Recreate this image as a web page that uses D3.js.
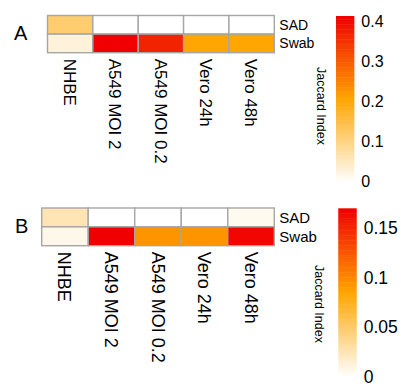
<!DOCTYPE html>
<html>
<head>
<meta charset="utf-8">
<script src="https://cdn.jsdelivr.net/npm/d3@7"></script>
<style>
html,body{margin:0;padding:0;background:#fff;}
svg{display:block;font-family:"Liberation Sans",Arial,sans-serif;}
</style>
</head>
<body>
<svg id="chart" width="401" height="386"></svg>
<script>
const columns = ["NHBE", "A549 MOI 2", "A549 MOI 0.2", "Vero 24h", "Vero 48h"];
const rows = ["SAD", "Swab"];

const panelA_SAD  = [0.116, 0, 0, 0, 0];
const panelA_Swab = [0.029, 0.414, 0.37, 0.205, 0.205];
const panelA_max = 0.414;
const panelA_ticks = [0, 0.1, 0.2, 0.3, 0.4];

const panelB_SAD  = [0.025, 0, 0, 0, 0.005];
const panelB_Swab = [0.007, 0.17, 0.094, 0.094, 0.167];
const panelB_max = 0.17;
const panelB_ticks = [0, 0.05, 0.1, 0.15];

const legendTitle = "Jaccard Index";

const svg = d3.select("#chart");

function drawPanel(cfg) {
  const g = svg.append("g");
  const color = d3.scaleLinear()
    .domain([0, cfg.max / 2, cfg.max])
    .range(["#ffffff", "#ffa500", "#f00000"])
    .interpolate(d3.interpolateRgb)
    .clamp(true);

  const x = d3.scaleBand().domain(columns).range([cfg.x0, cfg.x1]);
  const y = d3.scaleBand().domain(rows).range([cfg.y0, cfg.y1]);

  const cells = [];
  rows.forEach((r, i) => {
    const vals = i === 0 ? cfg.sad : cfg.swab;
    columns.forEach((c, j) => cells.push({ r, c, v: vals[j] }));
  });

  g.selectAll("rect.cell").data(cells).enter().append("rect")
    .attr("class", "cell")
    .attr("x", d => x(d.c))
    .attr("y", d => y(d.r))
    .attr("width", x.bandwidth())
    .attr("height", y.bandwidth())
    .attr("fill", d => color(d.v))
    .attr("stroke", "#a6a6a6")
    .attr("stroke-width", 1.4);

  g.selectAll("text.row").data(rows).enter().append("text")
    .attr("x", cfg.x1 + 5)
    .attr("y", d => y(d) + y.bandwidth() / 2)
    .attr("dy", "0.36em")
    .attr("font-size", cfg.rowFont)
    .attr("fill", "#000")
    .text(d => d);

  g.selectAll("text.col").data(columns).enter().append("text")
    .attr("transform", d => `translate(${x(d) + x.bandwidth() / 2},${cfg.y1 + 6}) rotate(90)`)
    .attr("dy", "0.36em")
    .attr("font-size", cfg.colFont)
    .attr("fill", "#000")
    .text(d => d);

  g.append("text")
    .attr("x", cfg.letterX)
    .attr("y", cfg.letterY)
    .attr("font-size", 20)
    .attr("fill", "#000")
    .text(cfg.letter);

  const ly = d3.scaleLinear().domain([0, cfg.max]).range([cfg.lb0, cfg.lbTop]);
  const steps = d3.range(0, 100);
  const stepV = cfg.max / 100;
  g.selectAll("rect.leg").data(steps).enter().append("rect")
    .attr("x", cfg.lx)
    .attr("width", cfg.lw)
    .attr("y", d => ly((d + 1) * stepV))
    .attr("height", d => ly(d * stepV) - ly((d + 1) * stepV) + 0.5)
    .attr("fill", d => color((d + 0.5) * stepV));

  g.selectAll("text.tick").data(cfg.ticks).enter().append("text")
    .attr("x", cfg.lx + cfg.lw + 7)
    .attr("y", d => ly(d))
    .attr("dy", "0.36em")
    .attr("font-size", cfg.tickFont)
    .attr("fill", "#000")
    .text(d => d3.format("")(d));

  g.append("text")
    .attr("transform", `translate(${cfg.titleX},${cfg.titleY}) rotate(90)`)
    .attr("text-anchor", "middle")
    .attr("dy", "0.36em")
    .attr("font-size", 12.5)
    .attr("fill", "#000")
    .text(legendTitle);
}

drawPanel({
  letter: "A", letterX: 14, letterY: 40,
  sad: panelA_SAD, swab: panelA_Swab, max: panelA_max, ticks: panelA_ticks,
  x0: 47.5, x1: 274.3, y0: 15.5, y1: 52.7,
  rowFont: 14, colFont: 17, tickFont: 16,
  lx: 336, lw: 18.3, lb0: 181.7, lbTop: 16,
  titleX: 321.5, titleY: 106
});

drawPanel({
  letter: "B", letterX: 15, letterY: 232.5,
  sad: panelB_SAD, swab: panelB_Swab, max: panelB_max, ticks: panelB_ticks,
  x0: 41.7, x1: 274.3, y0: 208, y1: 245.7,
  rowFont: 15, colFont: 18, tickFont: 17.5,
  lx: 338.3, lw: 18.4, lb0: 376.5, lbTop: 208.3,
  titleX: 319.5, titleY: 304
});
</script>
</body>
</html>
